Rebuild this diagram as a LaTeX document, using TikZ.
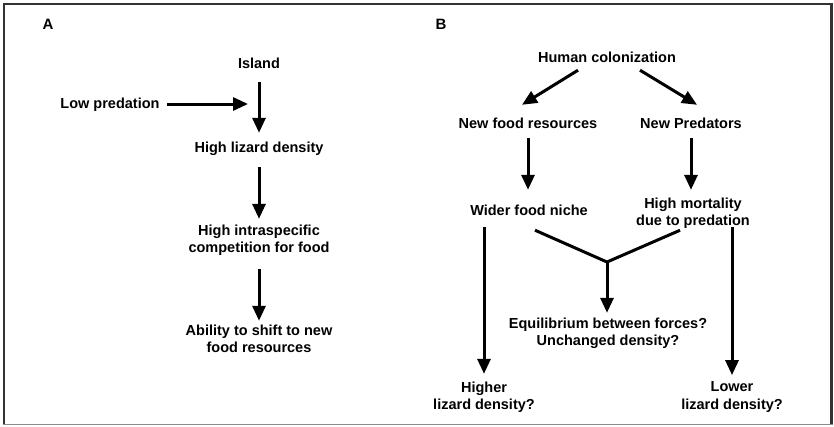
\documentclass[tikz,border=0pt]{standalone}
\usepackage{fontspec}
\setmainfont{Liberation Sans}
\usetikzlibrary{arrows.meta}
\tikzset{
  lbl/.style={font=\fontsize{14.5}{17.4}\selectfont\bfseries, inner sep=0pt, text height=10.5pt, text depth=3pt},
  mlbl/.style={font=\fontsize{14.5}{17.4}\selectfont\bfseries, inner sep=0pt, align=center},
  panel/.style={font=\fontsize{15}{18}\selectfont\bfseries, inner sep=0pt, text height=10.5pt, text depth=0pt},
  arr/.style={line width=3pt, -{Triangle[length=15pt,width=13pt]}},
  thick line/.style={line width=3pt},
  frame/.style={line width=2.5pt, draw=black!80},
  framebottom/.style={line width=1.5pt, draw=black!45}
}
\begin{document}
\begin{tikzpicture}[x=1pt,y=-1pt]
\useasboundingbox (0,0) rectangle (834,426);
\fill[white] (0,0) rectangle (834,426);
% frame
\draw[frame] (4,424.5) -- (4,4) -- (831.5,4) -- (831.5,424.5);
\draw[framebottom] (3,424.5) -- (832.5,424.5);

% panel letters
\node[panel] (pa) at (48,24) {A};
\node[panel] (pb) at (441,24) {B};

% Panel A
\node[lbl] (island) at (259,64.5) {Island};
\node[lbl] (lowp) at (110,104.5) {Low predation};
\node[lbl] (hld) at (259,148.5) {High lizard density};
\node[mlbl] (hic) at (259,240.2) {High intraspecific\\competition for food};
\node[mlbl] (abil) at (259,338.7) {Ability to shift to new\\food resources};
\coordinate (lowtip) at (248,104);

\draw[arr, shorten <=10.75pt, shorten >=8.75pt] (island.south) -- (hld.north);
\draw[arr, shorten <=7.5pt] (lowp.east |- lowtip) -- (lowtip);
\draw[arr, shorten <=11.75pt, shorten >=5.7pt] (hld.south) -- (hic.north);
\draw[arr, shorten <=13.4pt, shorten >=3.7pt] (hic.south) -- (abil.north);

% Panel B
\node[lbl] (human) at (607,58.5) {Human colonization};
\node[lbl] (nfr) at (528,124.5) {New food resources};
\node[lbl] (npred) at (691,124.5) {New Predators};
\node[lbl] (wider) at (529,211.5) {Wider food niche};
\node[mlbl] (hmort) at (693,213.2) {High mortality\\due to predation};
\node[mlbl] (equil) at (608,333.2) {Equilibrium between forces?\\Unchanged density?};
\node[mlbl] (higher) at (484,397.2) {Higher\\lizard density?};
\node[mlbl] (lower) at (732,397.2) {Lower\\lizard density?};
\coordinate (yj) at (607,262);

\draw[arr] ([xshift=-29pt,yshift=-4.75pt]human.south) -- ([xshift=-6pt,yshift=12.75pt]nfr.north);
\draw[arr] ([xshift=33pt,yshift=-4.75pt]human.south) -- ([xshift=6pt,yshift=12.75pt]npred.north);
\draw[arr, shorten <=6.75pt, shorten >=14.75pt] (nfr.south) -- (nfr.south |- wider.north);
\draw[arr, shorten <=6.75pt, shorten >=7.7pt] (npred.south) -- (npred.south |- hmort.north);
\draw[arr, shorten <=8.75pt, shorten >=7.7pt] (higher.north |- wider.south) -- (higher.north);
\draw[arr, shorten <=-1.5pt, shorten >=6.7pt] (lower.north |- hmort.south) -- (lower.north);
\draw[thick line] ([xshift=6pt,yshift=-11.75pt]wider.south) -- (yj) -- ([xshift=-13pt,yshift=-1.4pt]hmort.south);
\draw[arr, shorten >=4.7pt] (yj) -- (yj |- equil.north);
\end{tikzpicture}
\end{document}
